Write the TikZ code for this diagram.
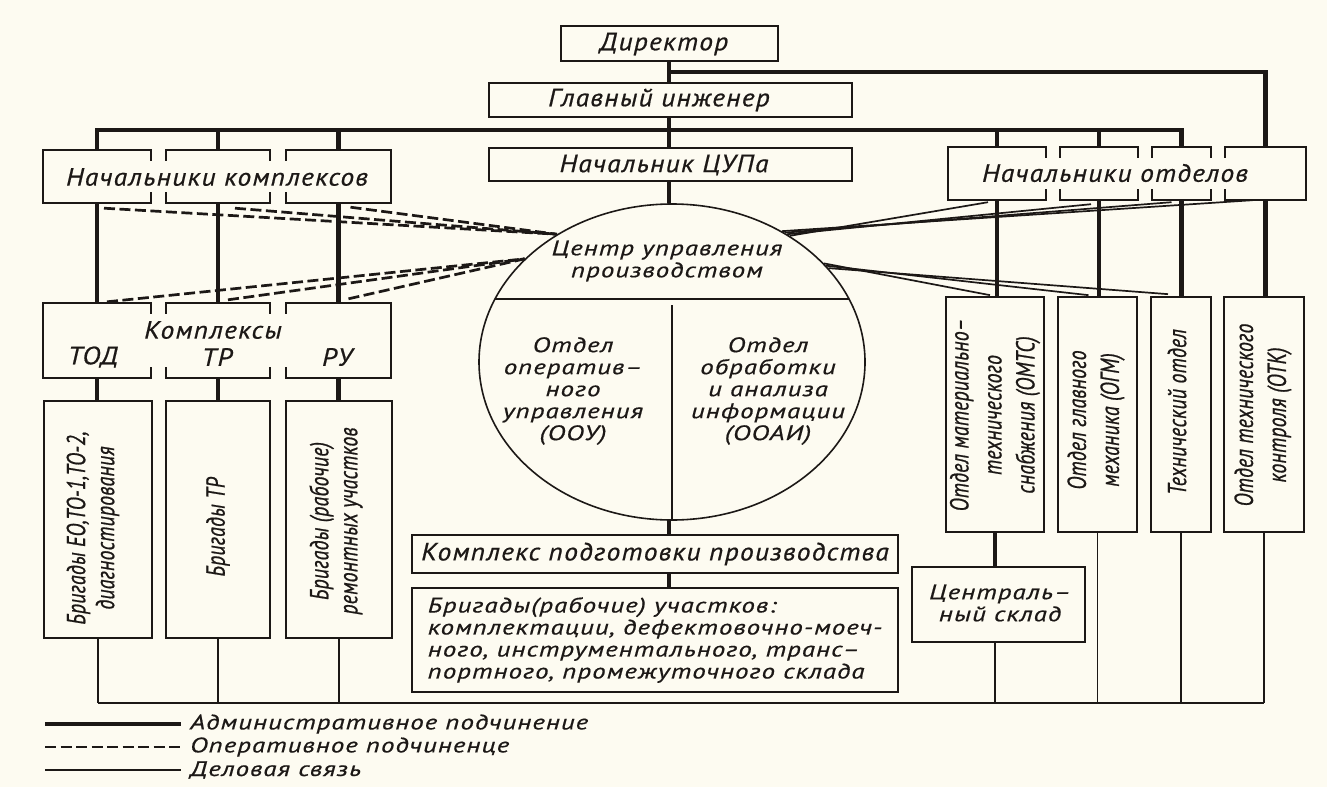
\documentclass[tikz,border=0pt]{standalone}
\usepackage{fontspec}
\newfontfamily\dfw{PT Sans}[FakeStretch=1.1,LetterSpace=5,FakeBold=0.6]
\newfontfamily\dfm{PT Sans}[FakeStretch=1.28,LetterSpace=5,FakeBold=0.6]
\newfontfamily\dfc{PT Sans}[FakeStretch=0.76,LetterSpace=1,FakeBold=0.7]
\usetikzlibrary{fit,shapes.geometric}
\definecolor{paper}{RGB}{253,251,241}
\definecolor{ink}{RGB}{28,24,22}
\newcommand\wtxt{\dfw\fontsize{25}{26}\selectfont\itshape}
\newcommand\mtxt{\dfm\fontsize{21}{22}\selectfont\itshape}
\newcommand\ctxt{\dfc\fontsize{26}{29}\selectfont\itshape}
\newcommand\ctxtd{\dfc\fontsize{26}{33}\selectfont\itshape}
\newcommand\xtb[1]{\draw[brd] (#1.north west) -- (#1.north east) (#1.south west) -- (#1.south east);}
\newcommand\xls[1]{\draw[brd] (#1.north west) -- ++(0,10) (#1.south west) -- ++(0,-10);}
\newcommand\xrs[1]{\draw[brd] (#1.north east) -- ++(0,10) (#1.south east) -- ++(0,-10);}
\tikzset{
 bx/.style={draw=ink, line width=1.7pt, fill=paper, inner sep=0pt},
 pb/.style={inner sep=0pt, draw=none},
 brd/.style={draw=ink, line width=1.7pt, line cap=rect},
 adm/.style={draw=ink, line width=4.2pt},
 biz/.style={draw=ink, line width=1.7pt},
 oper/.style={draw=ink, line width=2.7pt, dash pattern=on 11pt off 4.5pt},
 lbl/.style={inner sep=0pt, font=\wtxt, text=ink, align=center},
 mlbl/.style={inner sep=0pt, font=\mtxt, text=ink, align=center},
 vlbl/.style={inner sep=0pt, font=\ctxt, text=ink, align=center, rotate=90},
 vlbld/.style={inner sep=0pt, font=\ctxtd, text=ink, align=center, rotate=90},
}
\begin{document}
\begin{tikzpicture}[x=1pt,y=-1pt]
\fill[paper] (0,0) rectangle (1327,787);
\useasboundingbox (0,0) rectangle (1327,787);

% ---------- central column ----------
\node[bx, fit={(561,26)(778,61)}] (dir) {};
\node[lbl] (tdir) at (664,44) {Директор};
\node[bx, fit={(489,83)(852,117)}] (gi) {};
\node[lbl] (tgi) at (659,100) {Главный инженер};
\node[bx, fit={(489,148)(852,181)}] (nc) {};
\node[lbl] (tnc) at (664,165) {Начальник ЦУПа};
\node[ellipse, draw=ink, line width=1.6pt, fill=paper, minimum width=386pt, minimum height=316pt, inner sep=0pt] (cup) at (672,362) {};
\node[mlbl] (tcup) at (667,261) {Центр управления\\производством};
\node[mlbl] (tooy) at (573,391) {Отдел\\оператив–\\ного\\управления\\(ООУ)};
\node[mlbl] (tooai) at (768,391) {Отдел\\обработки\\и анализа\\информации\\(ООАИ)};
\node[bx, fit={(412,535)(898,573)}] (kpp) {};
\node[lbl] (tkpp) at (kpp) {Комплекс подготовки производства};
\node[bx, fit={(412,588)(898,692)}] (bu) {};
\node[mlbl, align=left] (tbu) at (bu) {Бригады(рабочие) участков:\\комплектации, дефектовочно-моеч-\\ного, инструментального, транс–\\портного, промежуточного склада};

\coordinate (cx) at (669,0);
\coordinate (tb) at (669,72);
\coordinate (bus) at (669,130);
\coordinate (bot) at (669,703);

% ---------- left complexes ----------
\node[pb, fit={(43,150)(151,203)}] (nk1) {};
\node[pb, fit={(166,150)(270,203)}] (nk2) {};
\node[pb, fit={(286,150)(391,203)}] (nk3) {};
\node[lbl] (tnk) at (217,177) {Начальники комплексов};
\node[pb, fit={(43,303)(151,378)}] (kx1) {};
\node[pb, fit={(166,303)(270,378)}] (kx2) {};
\node[pb, fit={(286,303)(391,378)}] (kx3) {};
\node[lbl] (tkx) at (213,330) {Комплексы};
\node[lbl] (tkx1) at (93,357) {ТОД};
\node[lbl] (tkx2) at (217,357) {ТР};
\node[lbl] (tkx3) at (337,357) {РУ};
\node[bx, fit={(44,401)(152,638)}] (br1) {};
\node[bx, fit={(166,401)(270,638)}] (br2) {};
\node[bx, fit={(286,401)(392,638)}] (br3) {};
\node[vlbl] (tbr1) at (93,528) {Бригады ЕО,ТО-1,ТО-2,\\диагностирования};
\node[vlbl] (tbr2) at (218,527) {Бригады ТР};
\node[vlbl] (tbr3) at (336,521) {Бригады (рабочие)\\ремонтных участков};

% ---------- right departments ----------
\node[pb, fit={(948,147)(1046,200)}] (no1) {};
\node[pb, fit={(1060,147)(1138,200)}] (no2) {};
\node[pb, fit={(1152,147)(1211,200)}] (no3) {};
\node[pb, fit={(1225,147)(1306,200)}] (no4) {};
\node[lbl] (tno) at (1115,173) {Начальники отделов};
\node[bx, fit={(946,297)(1044,532)}] (d1) {};
\node[bx, fit={(1058,297)(1137,532)}] (d2) {};
\node[bx, fit={(1151,297)(1211,532)}] (d3) {};
\node[bx, fit={(1224,297)(1304,532)}] (d4) {};
\node[vlbld] (td1) at (995,415) {Отдел материально–\\технического\\снабжения (ОМТС)};
\node[vlbld] (td2) at (1096,420) {Отдел главного\\механика (ОГМ)};
\node[vlbld] (td3) at (1177,412) {Технический отдел};
\node[vlbld] (td4) at (1263,415) {Отдел технического\\контроля (ОТК)};
\node[bx, fit={(912,567)(1085,642)}] (sk) {};
\node[mlbl] (tsk) at (1000,603) {Централь–\\ный склад};

% split-box borders
\draw[brd] (nk1.north east) -- (nk1.north west) -- (nk1.south west) -- (nk1.south east);
\xrs{nk1} \xtb{nk2} \xls{nk2} \xrs{nk2} \xls{nk3}
\draw[brd] (nk3.north west) -- (nk3.north east) -- (nk3.south east) -- (nk3.south west);
\draw[brd] (kx1.north east) -- (kx1.north west) -- (kx1.south west) -- (kx1.south east);
\xrs{kx1} \xtb{kx2} \xls{kx2} \xrs{kx2} \xls{kx3}
\draw[brd] (kx3.north west) -- (kx3.north east) -- (kx3.south east) -- (kx3.south west);
\draw[brd] (no1.north east) -- (no1.north west) -- (no1.south west) -- (no1.south east);
\xrs{no1} \xtb{no2} \xls{no2} \xrs{no2} \xtb{no3} \xls{no3} \xrs{no3} \xls{no4}
\draw[brd] (no4.north west) -- (no4.north east) -- (no4.south east) -- (no4.south west);

% ---------- administrative lines ----------
\draw[adm] (dir.south -| cx) -- (gi.north -| cx);
\draw[adm] (gi.south -| cx) -- (nc.north -| cx);
\draw[adm] (nc.south -| cx) -- (cup.north -| cx);
\draw[adm] (cup.south -| cx) -- (kpp.north -| cx);
\draw[adm] (kpp.south -| cx) -- (bu.north -| cx);
\draw[adm] (tb) -| (no4.north);
\draw[adm] (nk1.north) |- (bus) -| (no3.north);
\draw[adm] (nk2.north) -- (nk2.north |- bus);
\draw[adm] (nk3.north) -- (nk3.north |- bus);
\draw[adm] (no1.north) -- (no1.north |- bus);
\draw[adm] (no2.north) -- (no2.north |- bus);
\foreach \i in {1,2,3} {
  \draw[adm] (nk\i.south) -- (kx\i.north);
  \draw[adm] (kx\i.south) -- (br\i.north -| kx\i.south);
}
\foreach \i in {1,2,3,4} {
  \draw[adm] (no\i.south) -- (d\i.north -| no\i.south);
}
\draw[adm] (d1.south) -- (sk.north -| d1.south);

% ---------- business links ----------
\foreach \i in {1,2,3} {
  \draw[biz] (br\i.south) -- (br\i.south |- bot);
}
\draw[biz] (sk.south -| d1.south) -- (bot -| d1.south);
\foreach \i in {2,3,4} {
  \draw[biz] (d\i.south) -- (d\i.south |- bot);
}
\draw[biz, line width=2.2pt] (br1.south |- bot) -- (d4.south |- bot);

% ellipse inner lines
\draw[biz] ([shift={(-177,-63)}]cup.center) -- ([shift={(177,-63)}]cup.center);
\draw[biz] ([shift={(0,-57)}]cup.center) -- (cup.south);

% ---------- operative (dashed) ----------
\draw[oper] ([xshift=7pt,yshift=-5pt]nk1.south) -- (cup.132);
\draw[oper] ([xshift=17pt,yshift=-5pt]nk2.south) -- (cup.132);
\draw[oper] ([xshift=12pt,yshift=-4pt]nk3.south) -- (cup.132);
\draw[oper] ([xshift=10pt,yshift=1pt]kx1.north) -- (cup.145);
\draw[oper] ([xshift=10pt,yshift=3pt]kx2.north) -- (cup.145);
\draw[oper] ([xshift=10pt,yshift=4pt]kx3.north) -- (cup.145);

% ---------- business (thin) to ellipse ----------
\draw[biz] ([xshift=-9pt,yshift=-2pt]no1.south) -- (cup.47);
\draw[biz] ([xshift=-8pt,yshift=-4pt]no2.south) -- (cup.48);
\draw[biz] ([xshift=-10pt,yshift=-2pt]no3.south) -- (cup.49);
\draw[biz] ([xshift=-13pt]no4.south) -- (cup.50);
\draw[biz] ([xshift=-5pt,yshift=1pt]d1.north) -- (cup.33);
\draw[biz] ([xshift=-9pt,yshift=1pt]d2.north) -- (cup.32);
\draw[biz] ([xshift=-13pt,yshift=2pt]d3.north) -- (cup.31);

% ---------- legend ----------
\node[mlbl, anchor=west] (lg1) at (190,724) {Административное подчинение};
\node[mlbl, anchor=west] (lg2) at (190,747) {Оперативное подчиненце};
\node[mlbl, anchor=west] (lg3) at (190,770) {Деловая связь};
\coordinate (la1) at (45,724);
\coordinate (la2) at (45,747);
\coordinate (la3) at (45,770);
\draw[adm] (la1) -- ([xshift=-9pt]la1 -| lg1.west);
\draw[oper] (la2) -- ([xshift=-9pt]la2 -| lg2.west);
\draw[biz] (la3) -- ([xshift=-9pt]la3 -| lg3.west);
\end{tikzpicture}
\end{document}
